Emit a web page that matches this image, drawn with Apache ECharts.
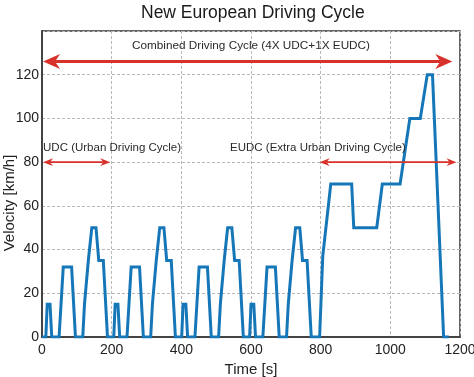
<!DOCTYPE html>
<html>
<head>
<meta charset="utf-8">
<script src="https://cdn.jsdelivr.net/npm/echarts@6/dist/echarts.min.js"></script>
<style>
html,body{margin:0;padding:0;background:#fff;}
#chart{width:474px;height:377px;}
</style>
</head>
<body>
<div id="chart"></div>
<script>
// ---- data ----
const chartTitle = 'New European Driving Cycle';
const xName = 'Time [s]';
const yName = 'Velocity [km/h]';
const xTicks = [0, 200, 400, 600, 800, 1000, 1200];
const yTicks = [0, 20, 40, 60, 80, 100, 120];

const timeS = [
  0, 11, 15, 23, 28, 49, 61, 85, 96, 117, 122, 124, 133, 135, 143, 155, 163, 176, 188,
  195, 206, 210, 218, 223, 244, 256, 280, 291, 312, 317, 319, 328, 330, 338, 350, 358, 371, 383,
  390, 401, 405, 413, 418, 439, 451, 475, 486, 507, 512, 514, 523, 525, 533, 545, 553, 566, 578,
  585, 596, 600, 608, 613, 634, 646, 670, 681, 702, 707, 709, 718, 720, 728, 740, 748, 761, 773,
  797, 806, 829, 889, 895, 961, 977, 1028, 1056, 1086, 1106, 1121, 1153, 1168
];
const velocity = [
  0, 0, 15, 15, 0, 0, 32, 32, 0, 0, 15, 15, 35, 35, 50, 50, 35, 35, 0,
  0, 0, 15, 15, 0, 0, 32, 32, 0, 0, 15, 15, 35, 35, 50, 50, 35, 35, 0,
  0, 0, 15, 15, 0, 0, 32, 32, 0, 0, 15, 15, 35, 35, 50, 50, 35, 35, 0,
  0, 0, 15, 15, 0, 0, 32, 32, 0, 0, 15, 15, 35, 35, 50, 50, 35, 35, 0,
  0, 37, 70, 70, 50, 50, 70, 70, 100, 100, 120, 120, 0, 0
];

// annotation arrows (data coordinates)
const arrowFrom  = [3, 3, 797];
const arrowTo    = [1178, 196, 1190];
const arrowLevel = [126, 80, 80];
const arrowBig   = [true, false, false];

// annotation texts (data coordinates)
const noteText  = ['Combined Driving Cycle (4X UDC+1X EUDC)', 'UDC (Urban Driving Cycle)', 'EUDC (Extra Urban Driving Cycle)'];
const noteTime  = [600, 3, 792];
const noteVel   = [133.3, 86.6, 86.6];
const noteAlign = ['center', 'left', 'center'];

// ---- chart ----
const FONT = '"Liberation Sans", Arial, Helvetica, sans-serif';
const RED = '#d8302a';
const lineData = timeS.map((t, i) => [t, velocity[i]]);
const arrowData = arrowFrom.map((f, i) => [f, arrowTo[i], arrowLevel[i], i]);
const noteData = noteTime.map((t, i) => [t, noteVel[i], i]);

const chart = echarts.init(document.getElementById('chart'), null, {renderer: 'canvas'});
chart.setOption({
  backgroundColor: '#fff',
  animation: false,
  title: {
    text: chartTitle,
    left: 136, top: -1,
    textStyle: {fontFamily: FONT, fontSize: 17.5, fontWeight: 'normal', color: '#1a1a1a'}
  },
  graphic: [{
    type: 'text', x: 10, y: 203, rotation: Math.PI / 2,
    style: {text: yName, font: '15px ' + FONT, fill: '#222', align: 'center', verticalAlign: 'middle'}
  }],
  grid: {
    left: 42, right: 14, top: 31, bottom: 40,
    outerBoundsMode: 'none', containLabel: false,
    show: true, borderColor: '#333', borderWidth: 1.5, backgroundColor: 'transparent'
  },
  xAxis: {
    type: 'value', min: xTicks[0], max: xTicks[xTicks.length - 1], interval: 200,
    name: xName, nameLocation: 'middle', nameGap: 24,
    nameTextStyle: {fontFamily: FONT, fontSize: 15, color: '#222'},
    axisLine: {show: true, onZero: false, lineStyle: {color: '#444', width: 2}},
    axisTick: {show: false},
    axisLabel: {fontFamily: FONT, fontSize: 14, color: '#222', margin: 6,
      formatter: v => (xTicks.indexOf(v) >= 0 ? String(v) : '')},
    splitLine: {show: true, lineStyle: {color: '#b8b8b8', width: 1, type: [3, 2]}}
  },
  yAxis: {
    type: 'value', min: 0, max: 140, interval: 20,
    axisLine: {show: true, onZero: false, lineStyle: {color: '#444', width: 2}},
    axisTick: {show: false},
    axisLabel: {
      fontFamily: FONT, fontSize: 14, color: '#222', margin: 3,
      formatter: v => (yTicks.indexOf(v) >= 0 ? String(v) : '')
    },
    splitLine: {show: true, lineStyle: {color: '#b8b8b8', width: 1, type: [3, 2]}}
  },
  series: [
    {
      type: 'line', data: lineData, showSymbol: false, symbol: 'none',
      lineStyle: {color: '#1677b8', width: 3, join: 'miter'},
      z: 3
    },
    {
      type: 'custom', data: arrowData, z: 5,
      renderItem: function (params, api) {
        const idx = api.value(3);
        const big = arrowBig[idx];
        const p1 = api.coord([api.value(0), api.value(2)]);
        const p2 = api.coord([api.value(1), api.value(2)]);
        const L = big ? 17 : 10, W = big ? 7.5 : 3.8, N = big ? 5 : 3, lw = big ? 3 : 1.8;
        const y = p1[1];
        return {
          type: 'group',
          children: [
            {type: 'line', shape: {x1: p1[0] + L - N, y1: y, x2: p2[0] - L + N, y2: y},
             style: {stroke: RED, lineWidth: lw}},
            {type: 'polygon', shape: {points: [[p1[0], y], [p1[0] + L, y - W], [p1[0] + L - N, y], [p1[0] + L, y + W]]},
             style: {fill: RED}},
            {type: 'polygon', shape: {points: [[p2[0], y], [p2[0] - L, y - W], [p2[0] - L + N, y], [p2[0] - L, y + W]]},
             style: {fill: RED}}
          ]
        };
      }
    },
    {
      type: 'custom', data: noteData, z: 6,
      renderItem: function (params, api) {
        const idx = api.value(2);
        const p = api.coord([api.value(0), api.value(1)]);
        const fs = idx === 0 ? 11.75 : 11.5;
        return {
          type: 'text', x: p[0], y: p[1],
          style: {text: noteText[idx], fill: '#2a2a2a', font: fs + 'px ' + FONT,
                  align: noteAlign[idx], verticalAlign: 'middle'}
        };
      }
    }
  ]
});
</script>
</body>
</html>
